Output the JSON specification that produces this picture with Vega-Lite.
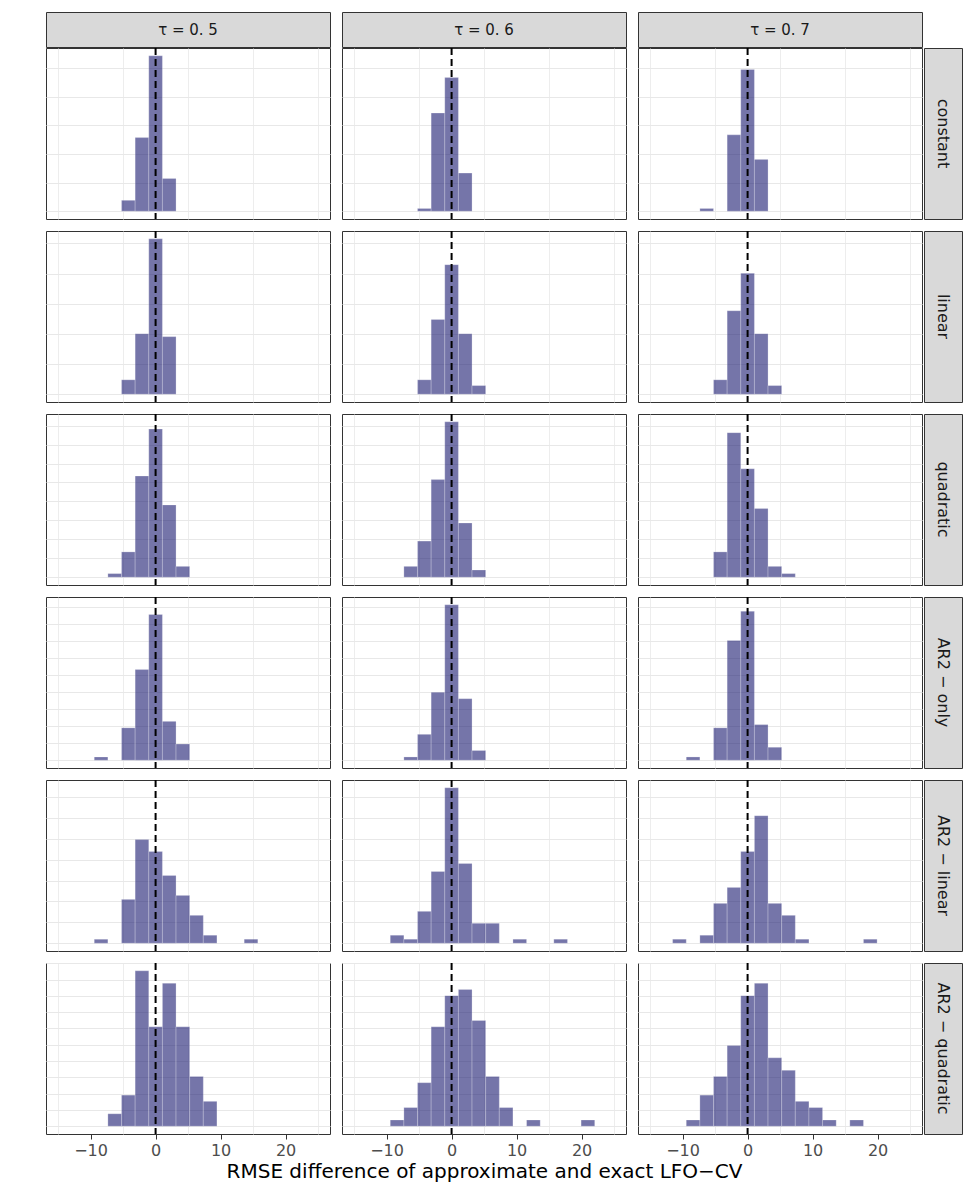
{
  "$schema": "https://vega.github.io/schema/vega-lite/v6.json",
  "padding": {"left": 45, "top": 11, "right": 5, "bottom": 5},
  "config": {
    "font": "DejaVu Sans",
    "view": {"stroke": "#333333", "strokeWidth": 1},
    "axis": {"domain": false, "grid": true, "gridColor": "#e8e8e8", "title": null},
    "axisY": {"labels": false, "ticks": false, "minExtent": 0, "maxExtent": 0, "gridWidth": 1}
  },
  "data": {"name": "bars"},
  "datasets": {
    "bars": [
      {"model": "constant", "tau": "0.5", "lo": -5.243, "hi": -3.146, "count": 4},
      {"model": "constant", "tau": "0.5", "lo": -3.146, "hi": -1.049, "count": 27},
      {"model": "constant", "tau": "0.5", "lo": -1.049, "hi": 1.049, "count": 57},
      {"model": "constant", "tau": "0.5", "lo": 1.049, "hi": 3.146, "count": 12},
      {"model": "constant", "tau": "0.6", "lo": -5.243, "hi": -3.146, "count": 1},
      {"model": "constant", "tau": "0.6", "lo": -3.146, "hi": -1.049, "count": 36},
      {"model": "constant", "tau": "0.6", "lo": -1.049, "hi": 1.049, "count": 49},
      {"model": "constant", "tau": "0.6", "lo": 1.049, "hi": 3.146, "count": 14},
      {"model": "constant", "tau": "0.7", "lo": -7.34, "hi": -5.243, "count": 1},
      {"model": "constant", "tau": "0.7", "lo": -3.146, "hi": -1.049, "count": 28},
      {"model": "constant", "tau": "0.7", "lo": -1.049, "hi": 1.049, "count": 52},
      {"model": "constant", "tau": "0.7", "lo": 1.049, "hi": 3.146, "count": 19},
      {"model": "linear", "tau": "0.5", "lo": -5.243, "hi": -3.146, "count": 5},
      {"model": "linear", "tau": "0.5", "lo": -3.146, "hi": -1.049, "count": 21},
      {"model": "linear", "tau": "0.5", "lo": -1.049, "hi": 1.049, "count": 54},
      {"model": "linear", "tau": "0.5", "lo": 1.049, "hi": 3.146, "count": 20},
      {"model": "linear", "tau": "0.6", "lo": -5.243, "hi": -3.146, "count": 5},
      {"model": "linear", "tau": "0.6", "lo": -3.146, "hi": -1.049, "count": 26},
      {"model": "linear", "tau": "0.6", "lo": -1.049, "hi": 1.049, "count": 45},
      {"model": "linear", "tau": "0.6", "lo": 1.049, "hi": 3.146, "count": 21},
      {"model": "linear", "tau": "0.6", "lo": 3.146, "hi": 5.243, "count": 3},
      {"model": "linear", "tau": "0.7", "lo": -5.243, "hi": -3.146, "count": 5},
      {"model": "linear", "tau": "0.7", "lo": -3.146, "hi": -1.049, "count": 29},
      {"model": "linear", "tau": "0.7", "lo": -1.049, "hi": 1.049, "count": 42},
      {"model": "linear", "tau": "0.7", "lo": 1.049, "hi": 3.146, "count": 21},
      {"model": "linear", "tau": "0.7", "lo": 3.146, "hi": 5.243, "count": 3},
      {"model": "quadratic", "tau": "0.5", "lo": -7.34, "hi": -5.243, "count": 1},
      {"model": "quadratic", "tau": "0.5", "lo": -5.243, "hi": -3.146, "count": 7},
      {"model": "quadratic", "tau": "0.5", "lo": -3.146, "hi": -1.049, "count": 28},
      {"model": "quadratic", "tau": "0.5", "lo": -1.049, "hi": 1.049, "count": 41},
      {"model": "quadratic", "tau": "0.5", "lo": 1.049, "hi": 3.146, "count": 20},
      {"model": "quadratic", "tau": "0.5", "lo": 3.146, "hi": 5.243, "count": 3},
      {"model": "quadratic", "tau": "0.6", "lo": -7.34, "hi": -5.243, "count": 3},
      {"model": "quadratic", "tau": "0.6", "lo": -5.243, "hi": -3.146, "count": 10},
      {"model": "quadratic", "tau": "0.6", "lo": -3.146, "hi": -1.049, "count": 27},
      {"model": "quadratic", "tau": "0.6", "lo": -1.049, "hi": 1.049, "count": 43},
      {"model": "quadratic", "tau": "0.6", "lo": 1.049, "hi": 3.146, "count": 15},
      {"model": "quadratic", "tau": "0.6", "lo": 3.146, "hi": 5.243, "count": 2},
      {"model": "quadratic", "tau": "0.7", "lo": -5.243, "hi": -3.146, "count": 7},
      {"model": "quadratic", "tau": "0.7", "lo": -3.146, "hi": -1.049, "count": 40},
      {"model": "quadratic", "tau": "0.7", "lo": -1.049, "hi": 1.049, "count": 30},
      {"model": "quadratic", "tau": "0.7", "lo": 1.049, "hi": 3.146, "count": 19},
      {"model": "quadratic", "tau": "0.7", "lo": 3.146, "hi": 5.243, "count": 3},
      {"model": "quadratic", "tau": "0.7", "lo": 5.243, "hi": 7.34, "count": 1},
      {"model": "AR2-only", "tau": "0.5", "lo": -9.437, "hi": -7.34, "count": 1},
      {"model": "AR2-only", "tau": "0.5", "lo": -5.243, "hi": -3.146, "count": 10},
      {"model": "AR2-only", "tau": "0.5", "lo": -3.146, "hi": -1.049, "count": 28},
      {"model": "AR2-only", "tau": "0.5", "lo": -1.049, "hi": 1.049, "count": 45},
      {"model": "AR2-only", "tau": "0.5", "lo": 1.049, "hi": 3.146, "count": 12},
      {"model": "AR2-only", "tau": "0.5", "lo": 3.146, "hi": 5.243, "count": 5},
      {"model": "AR2-only", "tau": "0.6", "lo": -7.34, "hi": -5.243, "count": 1},
      {"model": "AR2-only", "tau": "0.6", "lo": -5.243, "hi": -3.146, "count": 8},
      {"model": "AR2-only", "tau": "0.6", "lo": -3.146, "hi": -1.049, "count": 21},
      {"model": "AR2-only", "tau": "0.6", "lo": -1.049, "hi": 1.049, "count": 48},
      {"model": "AR2-only", "tau": "0.6", "lo": 1.049, "hi": 3.146, "count": 19},
      {"model": "AR2-only", "tau": "0.6", "lo": 3.146, "hi": 5.243, "count": 3},
      {"model": "AR2-only", "tau": "0.7", "lo": -9.437, "hi": -7.34, "count": 1},
      {"model": "AR2-only", "tau": "0.7", "lo": -5.243, "hi": -3.146, "count": 10},
      {"model": "AR2-only", "tau": "0.7", "lo": -3.146, "hi": -1.049, "count": 37},
      {"model": "AR2-only", "tau": "0.7", "lo": -1.049, "hi": 1.049, "count": 46},
      {"model": "AR2-only", "tau": "0.7", "lo": 1.049, "hi": 3.146, "count": 11},
      {"model": "AR2-only", "tau": "0.7", "lo": 3.146, "hi": 5.243, "count": 4},
      {"model": "AR2-linear", "tau": "0.5", "lo": -9.437, "hi": -7.34, "count": 1},
      {"model": "AR2-linear", "tau": "0.5", "lo": -5.243, "hi": -3.146, "count": 11},
      {"model": "AR2-linear", "tau": "0.5", "lo": -3.146, "hi": -1.049, "count": 26},
      {"model": "AR2-linear", "tau": "0.5", "lo": -1.049, "hi": 1.049, "count": 23},
      {"model": "AR2-linear", "tau": "0.5", "lo": 1.049, "hi": 3.146, "count": 17},
      {"model": "AR2-linear", "tau": "0.5", "lo": 3.146, "hi": 5.243, "count": 12},
      {"model": "AR2-linear", "tau": "0.5", "lo": 5.243, "hi": 7.34, "count": 7},
      {"model": "AR2-linear", "tau": "0.5", "lo": 7.34, "hi": 9.437, "count": 2},
      {"model": "AR2-linear", "tau": "0.5", "lo": 13.631, "hi": 15.728, "count": 1},
      {"model": "AR2-linear", "tau": "0.6", "lo": -9.437, "hi": -7.34, "count": 2},
      {"model": "AR2-linear", "tau": "0.6", "lo": -7.34, "hi": -5.243, "count": 1},
      {"model": "AR2-linear", "tau": "0.6", "lo": -5.243, "hi": -3.146, "count": 8},
      {"model": "AR2-linear", "tau": "0.6", "lo": -3.146, "hi": -1.049, "count": 18},
      {"model": "AR2-linear", "tau": "0.6", "lo": -1.049, "hi": 1.049, "count": 39},
      {"model": "AR2-linear", "tau": "0.6", "lo": 1.049, "hi": 3.146, "count": 20},
      {"model": "AR2-linear", "tau": "0.6", "lo": 3.146, "hi": 5.243, "count": 5},
      {"model": "AR2-linear", "tau": "0.6", "lo": 5.243, "hi": 7.34, "count": 5},
      {"model": "AR2-linear", "tau": "0.6", "lo": 9.437, "hi": 11.534, "count": 1},
      {"model": "AR2-linear", "tau": "0.6", "lo": 15.728, "hi": 17.825, "count": 1},
      {"model": "AR2-linear", "tau": "0.7", "lo": -11.534, "hi": -9.437, "count": 1},
      {"model": "AR2-linear", "tau": "0.7", "lo": -7.34, "hi": -5.243, "count": 2},
      {"model": "AR2-linear", "tau": "0.7", "lo": -5.243, "hi": -3.146, "count": 10},
      {"model": "AR2-linear", "tau": "0.7", "lo": -3.146, "hi": -1.049, "count": 14},
      {"model": "AR2-linear", "tau": "0.7", "lo": -1.049, "hi": 1.049, "count": 23},
      {"model": "AR2-linear", "tau": "0.7", "lo": 1.049, "hi": 3.146, "count": 32},
      {"model": "AR2-linear", "tau": "0.7", "lo": 3.146, "hi": 5.243, "count": 10},
      {"model": "AR2-linear", "tau": "0.7", "lo": 5.243, "hi": 7.34, "count": 7},
      {"model": "AR2-linear", "tau": "0.7", "lo": 7.34, "hi": 9.437, "count": 1},
      {"model": "AR2-linear", "tau": "0.7", "lo": 17.825, "hi": 19.922, "count": 1},
      {"model": "AR2-quadratic", "tau": "0.5", "lo": -7.34, "hi": -5.243, "count": 2},
      {"model": "AR2-quadratic", "tau": "0.5", "lo": -5.243, "hi": -3.146, "count": 5},
      {"model": "AR2-quadratic", "tau": "0.5", "lo": -3.146, "hi": -1.049, "count": 25},
      {"model": "AR2-quadratic", "tau": "0.5", "lo": -1.049, "hi": 1.049, "count": 16},
      {"model": "AR2-quadratic", "tau": "0.5", "lo": 1.049, "hi": 3.146, "count": 23},
      {"model": "AR2-quadratic", "tau": "0.5", "lo": 3.146, "hi": 5.243, "count": 16},
      {"model": "AR2-quadratic", "tau": "0.5", "lo": 5.243, "hi": 7.34, "count": 8},
      {"model": "AR2-quadratic", "tau": "0.5", "lo": 7.34, "hi": 9.437, "count": 4},
      {"model": "AR2-quadratic", "tau": "0.6", "lo": -9.437, "hi": -7.34, "count": 1},
      {"model": "AR2-quadratic", "tau": "0.6", "lo": -7.34, "hi": -5.243, "count": 3},
      {"model": "AR2-quadratic", "tau": "0.6", "lo": -5.243, "hi": -3.146, "count": 7},
      {"model": "AR2-quadratic", "tau": "0.6", "lo": -3.146, "hi": -1.049, "count": 16},
      {"model": "AR2-quadratic", "tau": "0.6", "lo": -1.049, "hi": 1.049, "count": 21},
      {"model": "AR2-quadratic", "tau": "0.6", "lo": 1.049, "hi": 3.146, "count": 22},
      {"model": "AR2-quadratic", "tau": "0.6", "lo": 3.146, "hi": 5.243, "count": 17},
      {"model": "AR2-quadratic", "tau": "0.6", "lo": 5.243, "hi": 7.34, "count": 8},
      {"model": "AR2-quadratic", "tau": "0.6", "lo": 7.34, "hi": 9.437, "count": 3},
      {"model": "AR2-quadratic", "tau": "0.6", "lo": 11.534, "hi": 13.631, "count": 1},
      {"model": "AR2-quadratic", "tau": "0.6", "lo": 19.922, "hi": 22.019, "count": 1},
      {"model": "AR2-quadratic", "tau": "0.7", "lo": -9.437, "hi": -7.34, "count": 1},
      {"model": "AR2-quadratic", "tau": "0.7", "lo": -7.34, "hi": -5.243, "count": 5},
      {"model": "AR2-quadratic", "tau": "0.7", "lo": -5.243, "hi": -3.146, "count": 8},
      {"model": "AR2-quadratic", "tau": "0.7", "lo": -3.146, "hi": -1.049, "count": 13},
      {"model": "AR2-quadratic", "tau": "0.7", "lo": -1.049, "hi": 1.049, "count": 21},
      {"model": "AR2-quadratic", "tau": "0.7", "lo": 1.049, "hi": 3.146, "count": 23},
      {"model": "AR2-quadratic", "tau": "0.7", "lo": 3.146, "hi": 5.243, "count": 11},
      {"model": "AR2-quadratic", "tau": "0.7", "lo": 5.243, "hi": 7.34, "count": 9},
      {"model": "AR2-quadratic", "tau": "0.7", "lo": 7.34, "hi": 9.437, "count": 4},
      {"model": "AR2-quadratic", "tau": "0.7", "lo": 9.437, "hi": 11.534, "count": 3},
      {"model": "AR2-quadratic", "tau": "0.7", "lo": 11.534, "hi": 13.631, "count": 1},
      {"model": "AR2-quadratic", "tau": "0.7", "lo": 15.728, "hi": 17.825, "count": 1}
    ]
  },
  "spacing": 8,
  "resolve": {"scale": {"y": "independent"}},
  "vconcat": [
    {
      "spacing": -3,
      "resolve": {"scale": {"y": "independent"}},
      "vconcat": [
        {
          "spacing": 12,
          "bounds": "flush",
          "hconcat": [
            {"width": 284, "height": 35, "view": {"fill": "#d9d9d9", "stroke": "#333333"}, "data": {"values": [{"label": "τ = 0. 5"}]}, "mark": {"type": "text", "fontSize": 15, "color": "#1a1a1a"}, "encoding": {"text": {"field": "label"}}},
            {"width": 284, "height": 35, "view": {"fill": "#d9d9d9", "stroke": "#333333"}, "data": {"values": [{"label": "τ = 0. 6"}]}, "mark": {"type": "text", "fontSize": 15, "color": "#1a1a1a"}, "encoding": {"text": {"field": "label"}}},
            {"width": 284, "height": 35, "view": {"fill": "#d9d9d9", "stroke": "#333333"}, "data": {"values": [{"label": "τ = 0. 7"}]}, "mark": {"type": "text", "fontSize": 15, "color": "#1a1a1a"}, "encoding": {"text": {"field": "label"}}}
          ]
        },
        {
          "spacing": 0,
          "hconcat": [
            {
              "spacing": 12, "bounds": "flush", "resolve": {"scale": {"y": "shared"}},
              "hconcat": [
                {"transform": [{"filter": "datum.model === 'constant' && datum.tau === '0.5'"}], "width": 284, "height": 171, "resolve": {"axis": {"x": "independent"}}, "layer": [
                  {"mark": {"type": "rect", "fill": "#191970", "fillOpacity": 0.6, "stroke": "#ffffff", "strokeOpacity": 0.4, "strokeWidth": 0.6}, "encoding": {
                    "x": {"field": "lo", "type": "quantitative", "scale": {"domain": [-16.86, 26.83], "nice": false, "zero": false}, "axis": {"orient": "bottom", "values": [-15, -5, 5, 15, 25], "labels": false, "ticks": false, "minExtent": 0, "maxExtent": 0, "gridWidth": 0.8}},
                    "x2": {"field": "hi"},
                    "y": {"field": "count", "type": "quantitative", "scale": {"zero": true, "nice": false, "padding": 7.8}, "axis": {"values": [0, 10.485, 20.97, 31.455, 41.94, 52.425]}},
                    "y2": {"datum": 0}}},
                  {"transform": [{"aggregate": [{"op": "count", "as": "n"}]}], "mark": {"type": "rule", "color": "#000000", "strokeDash": [7, 4], "strokeWidth": 2}, "encoding": {"x": {"datum": 0, "type": "quantitative", "axis": {"orient": "bottom", "values": [-10, 0, 10, 20], "labels": false, "ticks": false, "minExtent": 0, "maxExtent": 0, "gridWidth": 1.5}}}}
                ]},
                {"transform": [{"filter": "datum.model === 'constant' && datum.tau === '0.6'"}], "width": 284, "height": 171, "resolve": {"axis": {"x": "independent"}}, "layer": [
                  {"mark": {"type": "rect", "fill": "#191970", "fillOpacity": 0.6, "stroke": "#ffffff", "strokeOpacity": 0.4, "strokeWidth": 0.6}, "encoding": {
                    "x": {"field": "lo", "type": "quantitative", "scale": {"domain": [-16.86, 26.83], "nice": false, "zero": false}, "axis": {"orient": "bottom", "values": [-15, -5, 5, 15, 25], "labels": false, "ticks": false, "minExtent": 0, "maxExtent": 0, "gridWidth": 0.8}},
                    "x2": {"field": "hi"},
                    "y": {"field": "count", "type": "quantitative", "scale": {"zero": true, "nice": false, "padding": 7.8}, "axis": {"values": [0, 10.485, 20.97, 31.455, 41.94, 52.425]}},
                    "y2": {"datum": 0}}},
                  {"transform": [{"aggregate": [{"op": "count", "as": "n"}]}], "mark": {"type": "rule", "color": "#000000", "strokeDash": [7, 4], "strokeWidth": 2}, "encoding": {"x": {"datum": 0, "type": "quantitative", "axis": {"orient": "bottom", "values": [-10, 0, 10, 20], "labels": false, "ticks": false, "minExtent": 0, "maxExtent": 0, "gridWidth": 1.5}}}}
                ]},
                {"transform": [{"filter": "datum.model === 'constant' && datum.tau === '0.7'"}], "width": 284, "height": 171, "resolve": {"axis": {"x": "independent"}}, "layer": [
                  {"mark": {"type": "rect", "fill": "#191970", "fillOpacity": 0.6, "stroke": "#ffffff", "strokeOpacity": 0.4, "strokeWidth": 0.6}, "encoding": {
                    "x": {"field": "lo", "type": "quantitative", "scale": {"domain": [-16.86, 26.83], "nice": false, "zero": false}, "axis": {"orient": "bottom", "values": [-15, -5, 5, 15, 25], "labels": false, "ticks": false, "minExtent": 0, "maxExtent": 0, "gridWidth": 0.8}},
                    "x2": {"field": "hi"},
                    "y": {"field": "count", "type": "quantitative", "scale": {"zero": true, "nice": false, "padding": 7.8}, "axis": {"values": [0, 10.485, 20.97, 31.455, 41.94, 52.425]}},
                    "y2": {"datum": 0}}},
                  {"transform": [{"aggregate": [{"op": "count", "as": "n"}]}], "mark": {"type": "rule", "color": "#000000", "strokeDash": [7, 4], "strokeWidth": 2}, "encoding": {"x": {"datum": 0, "type": "quantitative", "axis": {"orient": "bottom", "values": [-10, 0, 10, 20], "labels": false, "ticks": false, "minExtent": 0, "maxExtent": 0, "gridWidth": 1.5}}}}
                ]}
              ]
            },
            {"width": 38, "height": 171, "view": {"fill": "#d9d9d9", "stroke": "#333333"}, "data": {"values": [{"label": "constant"}]}, "mark": {"type": "text", "angle": 90, "fontSize": 16, "color": "#1a1a1a"}, "encoding": {"text": {"field": "label"}}}
          ]
        }
      ]
    },
    {
      "spacing": 0,
      "hconcat": [
        {
          "spacing": 12, "bounds": "flush", "resolve": {"scale": {"y": "shared"}},
          "hconcat": [
            {"transform": [{"filter": "datum.model === 'linear' && datum.tau === '0.5'"}], "width": 284, "height": 171, "resolve": {"axis": {"x": "independent"}}, "layer": [
              {"mark": {"type": "rect", "fill": "#191970", "fillOpacity": 0.6, "stroke": "#ffffff", "strokeOpacity": 0.4, "strokeWidth": 0.6}, "encoding": {
                "x": {"field": "lo", "type": "quantitative", "scale": {"domain": [-16.86, 26.83], "nice": false, "zero": false}, "axis": {"orient": "bottom", "values": [-15, -5, 5, 15, 25], "labels": false, "ticks": false, "minExtent": 0, "maxExtent": 0, "gridWidth": 0.8}},
                "x2": {"field": "hi"},
                "y": {"field": "count", "type": "quantitative", "scale": {"zero": true, "nice": false, "padding": 7.8}, "axis": {"values": [0, 10.485, 20.97, 31.455, 41.94, 52.425]}},
                "y2": {"datum": 0}}},
              {"transform": [{"aggregate": [{"op": "count", "as": "n"}]}], "mark": {"type": "rule", "color": "#000000", "strokeDash": [7, 4], "strokeWidth": 2}, "encoding": {"x": {"datum": 0, "type": "quantitative", "axis": {"orient": "bottom", "values": [-10, 0, 10, 20], "labels": false, "ticks": false, "minExtent": 0, "maxExtent": 0, "gridWidth": 1.5}}}}
            ]},
            {"transform": [{"filter": "datum.model === 'linear' && datum.tau === '0.6'"}], "width": 284, "height": 171, "resolve": {"axis": {"x": "independent"}}, "layer": [
              {"mark": {"type": "rect", "fill": "#191970", "fillOpacity": 0.6, "stroke": "#ffffff", "strokeOpacity": 0.4, "strokeWidth": 0.6}, "encoding": {
                "x": {"field": "lo", "type": "quantitative", "scale": {"domain": [-16.86, 26.83], "nice": false, "zero": false}, "axis": {"orient": "bottom", "values": [-15, -5, 5, 15, 25], "labels": false, "ticks": false, "minExtent": 0, "maxExtent": 0, "gridWidth": 0.8}},
                "x2": {"field": "hi"},
                "y": {"field": "count", "type": "quantitative", "scale": {"zero": true, "nice": false, "padding": 7.8}, "axis": {"values": [0, 10.485, 20.97, 31.455, 41.94, 52.425]}},
                "y2": {"datum": 0}}},
              {"transform": [{"aggregate": [{"op": "count", "as": "n"}]}], "mark": {"type": "rule", "color": "#000000", "strokeDash": [7, 4], "strokeWidth": 2}, "encoding": {"x": {"datum": 0, "type": "quantitative", "axis": {"orient": "bottom", "values": [-10, 0, 10, 20], "labels": false, "ticks": false, "minExtent": 0, "maxExtent": 0, "gridWidth": 1.5}}}}
            ]},
            {"transform": [{"filter": "datum.model === 'linear' && datum.tau === '0.7'"}], "width": 284, "height": 171, "resolve": {"axis": {"x": "independent"}}, "layer": [
              {"mark": {"type": "rect", "fill": "#191970", "fillOpacity": 0.6, "stroke": "#ffffff", "strokeOpacity": 0.4, "strokeWidth": 0.6}, "encoding": {
                "x": {"field": "lo", "type": "quantitative", "scale": {"domain": [-16.86, 26.83], "nice": false, "zero": false}, "axis": {"orient": "bottom", "values": [-15, -5, 5, 15, 25], "labels": false, "ticks": false, "minExtent": 0, "maxExtent": 0, "gridWidth": 0.8}},
                "x2": {"field": "hi"},
                "y": {"field": "count", "type": "quantitative", "scale": {"zero": true, "nice": false, "padding": 7.8}, "axis": {"values": [0, 10.485, 20.97, 31.455, 41.94, 52.425]}},
                "y2": {"datum": 0}}},
              {"transform": [{"aggregate": [{"op": "count", "as": "n"}]}], "mark": {"type": "rule", "color": "#000000", "strokeDash": [7, 4], "strokeWidth": 2}, "encoding": {"x": {"datum": 0, "type": "quantitative", "axis": {"orient": "bottom", "values": [-10, 0, 10, 20], "labels": false, "ticks": false, "minExtent": 0, "maxExtent": 0, "gridWidth": 1.5}}}}
            ]}
          ]
        },
        {"width": 38, "height": 171, "view": {"fill": "#d9d9d9", "stroke": "#333333"}, "data": {"values": [{"label": "linear"}]}, "mark": {"type": "text", "angle": 90, "fontSize": 16, "color": "#1a1a1a"}, "encoding": {"text": {"field": "label"}}}
      ]
    },
    {
      "spacing": 0,
      "hconcat": [
        {
          "spacing": 12, "bounds": "flush", "resolve": {"scale": {"y": "shared"}},
          "hconcat": [
            {"transform": [{"filter": "datum.model === 'quadratic' && datum.tau === '0.5'"}], "width": 284, "height": 171, "resolve": {"axis": {"x": "independent"}}, "layer": [
              {"mark": {"type": "rect", "fill": "#191970", "fillOpacity": 0.6, "stroke": "#ffffff", "strokeOpacity": 0.4, "strokeWidth": 0.6}, "encoding": {
                "x": {"field": "lo", "type": "quantitative", "scale": {"domain": [-16.86, 26.83], "nice": false, "zero": false}, "axis": {"orient": "bottom", "values": [-15, -5, 5, 15, 25], "labels": false, "ticks": false, "minExtent": 0, "maxExtent": 0, "gridWidth": 0.8}},
                "x2": {"field": "hi"},
                "y": {"field": "count", "type": "quantitative", "scale": {"zero": true, "nice": false, "padding": 7.8}, "axis": {"values": [0, 5.2425, 10.485, 15.7275, 20.97, 26.2125, 31.455, 36.6975, 41.94]}},
                "y2": {"datum": 0}}},
              {"transform": [{"aggregate": [{"op": "count", "as": "n"}]}], "mark": {"type": "rule", "color": "#000000", "strokeDash": [7, 4], "strokeWidth": 2}, "encoding": {"x": {"datum": 0, "type": "quantitative", "axis": {"orient": "bottom", "values": [-10, 0, 10, 20], "labels": false, "ticks": false, "minExtent": 0, "maxExtent": 0, "gridWidth": 1.5}}}}
            ]},
            {"transform": [{"filter": "datum.model === 'quadratic' && datum.tau === '0.6'"}], "width": 284, "height": 171, "resolve": {"axis": {"x": "independent"}}, "layer": [
              {"mark": {"type": "rect", "fill": "#191970", "fillOpacity": 0.6, "stroke": "#ffffff", "strokeOpacity": 0.4, "strokeWidth": 0.6}, "encoding": {
                "x": {"field": "lo", "type": "quantitative", "scale": {"domain": [-16.86, 26.83], "nice": false, "zero": false}, "axis": {"orient": "bottom", "values": [-15, -5, 5, 15, 25], "labels": false, "ticks": false, "minExtent": 0, "maxExtent": 0, "gridWidth": 0.8}},
                "x2": {"field": "hi"},
                "y": {"field": "count", "type": "quantitative", "scale": {"zero": true, "nice": false, "padding": 7.8}, "axis": {"values": [0, 5.2425, 10.485, 15.7275, 20.97, 26.2125, 31.455, 36.6975, 41.94]}},
                "y2": {"datum": 0}}},
              {"transform": [{"aggregate": [{"op": "count", "as": "n"}]}], "mark": {"type": "rule", "color": "#000000", "strokeDash": [7, 4], "strokeWidth": 2}, "encoding": {"x": {"datum": 0, "type": "quantitative", "axis": {"orient": "bottom", "values": [-10, 0, 10, 20], "labels": false, "ticks": false, "minExtent": 0, "maxExtent": 0, "gridWidth": 1.5}}}}
            ]},
            {"transform": [{"filter": "datum.model === 'quadratic' && datum.tau === '0.7'"}], "width": 284, "height": 171, "resolve": {"axis": {"x": "independent"}}, "layer": [
              {"mark": {"type": "rect", "fill": "#191970", "fillOpacity": 0.6, "stroke": "#ffffff", "strokeOpacity": 0.4, "strokeWidth": 0.6}, "encoding": {
                "x": {"field": "lo", "type": "quantitative", "scale": {"domain": [-16.86, 26.83], "nice": false, "zero": false}, "axis": {"orient": "bottom", "values": [-15, -5, 5, 15, 25], "labels": false, "ticks": false, "minExtent": 0, "maxExtent": 0, "gridWidth": 0.8}},
                "x2": {"field": "hi"},
                "y": {"field": "count", "type": "quantitative", "scale": {"zero": true, "nice": false, "padding": 7.8}, "axis": {"values": [0, 5.2425, 10.485, 15.7275, 20.97, 26.2125, 31.455, 36.6975, 41.94]}},
                "y2": {"datum": 0}}},
              {"transform": [{"aggregate": [{"op": "count", "as": "n"}]}], "mark": {"type": "rule", "color": "#000000", "strokeDash": [7, 4], "strokeWidth": 2}, "encoding": {"x": {"datum": 0, "type": "quantitative", "axis": {"orient": "bottom", "values": [-10, 0, 10, 20], "labels": false, "ticks": false, "minExtent": 0, "maxExtent": 0, "gridWidth": 1.5}}}}
            ]}
          ]
        },
        {"width": 38, "height": 171, "view": {"fill": "#d9d9d9", "stroke": "#333333"}, "data": {"values": [{"label": "quadratic"}]}, "mark": {"type": "text", "angle": 90, "fontSize": 16, "color": "#1a1a1a"}, "encoding": {"text": {"field": "label"}}}
      ]
    },
    {
      "spacing": 0,
      "hconcat": [
        {
          "spacing": 12, "bounds": "flush", "resolve": {"scale": {"y": "shared"}},
          "hconcat": [
            {"transform": [{"filter": "datum.model === 'AR2-only' && datum.tau === '0.5'"}], "width": 284, "height": 171, "resolve": {"axis": {"x": "independent"}}, "layer": [
              {"mark": {"type": "rect", "fill": "#191970", "fillOpacity": 0.6, "stroke": "#ffffff", "strokeOpacity": 0.4, "strokeWidth": 0.6}, "encoding": {
                "x": {"field": "lo", "type": "quantitative", "scale": {"domain": [-16.86, 26.83], "nice": false, "zero": false}, "axis": {"orient": "bottom", "values": [-15, -5, 5, 15, 25], "labels": false, "ticks": false, "minExtent": 0, "maxExtent": 0, "gridWidth": 0.8}},
                "x2": {"field": "hi"},
                "y": {"field": "count", "type": "quantitative", "scale": {"zero": true, "nice": false, "padding": 7.8}, "axis": {"values": [0, 5.2425, 10.485, 15.7275, 20.97, 26.2125, 31.455, 36.6975, 41.94, 47.1825]}},
                "y2": {"datum": 0}}},
              {"transform": [{"aggregate": [{"op": "count", "as": "n"}]}], "mark": {"type": "rule", "color": "#000000", "strokeDash": [7, 4], "strokeWidth": 2}, "encoding": {"x": {"datum": 0, "type": "quantitative", "axis": {"orient": "bottom", "values": [-10, 0, 10, 20], "labels": false, "ticks": false, "minExtent": 0, "maxExtent": 0, "gridWidth": 1.5}}}}
            ]},
            {"transform": [{"filter": "datum.model === 'AR2-only' && datum.tau === '0.6'"}], "width": 284, "height": 171, "resolve": {"axis": {"x": "independent"}}, "layer": [
              {"mark": {"type": "rect", "fill": "#191970", "fillOpacity": 0.6, "stroke": "#ffffff", "strokeOpacity": 0.4, "strokeWidth": 0.6}, "encoding": {
                "x": {"field": "lo", "type": "quantitative", "scale": {"domain": [-16.86, 26.83], "nice": false, "zero": false}, "axis": {"orient": "bottom", "values": [-15, -5, 5, 15, 25], "labels": false, "ticks": false, "minExtent": 0, "maxExtent": 0, "gridWidth": 0.8}},
                "x2": {"field": "hi"},
                "y": {"field": "count", "type": "quantitative", "scale": {"zero": true, "nice": false, "padding": 7.8}, "axis": {"values": [0, 5.2425, 10.485, 15.7275, 20.97, 26.2125, 31.455, 36.6975, 41.94, 47.1825]}},
                "y2": {"datum": 0}}},
              {"transform": [{"aggregate": [{"op": "count", "as": "n"}]}], "mark": {"type": "rule", "color": "#000000", "strokeDash": [7, 4], "strokeWidth": 2}, "encoding": {"x": {"datum": 0, "type": "quantitative", "axis": {"orient": "bottom", "values": [-10, 0, 10, 20], "labels": false, "ticks": false, "minExtent": 0, "maxExtent": 0, "gridWidth": 1.5}}}}
            ]},
            {"transform": [{"filter": "datum.model === 'AR2-only' && datum.tau === '0.7'"}], "width": 284, "height": 171, "resolve": {"axis": {"x": "independent"}}, "layer": [
              {"mark": {"type": "rect", "fill": "#191970", "fillOpacity": 0.6, "stroke": "#ffffff", "strokeOpacity": 0.4, "strokeWidth": 0.6}, "encoding": {
                "x": {"field": "lo", "type": "quantitative", "scale": {"domain": [-16.86, 26.83], "nice": false, "zero": false}, "axis": {"orient": "bottom", "values": [-15, -5, 5, 15, 25], "labels": false, "ticks": false, "minExtent": 0, "maxExtent": 0, "gridWidth": 0.8}},
                "x2": {"field": "hi"},
                "y": {"field": "count", "type": "quantitative", "scale": {"zero": true, "nice": false, "padding": 7.8}, "axis": {"values": [0, 5.2425, 10.485, 15.7275, 20.97, 26.2125, 31.455, 36.6975, 41.94, 47.1825]}},
                "y2": {"datum": 0}}},
              {"transform": [{"aggregate": [{"op": "count", "as": "n"}]}], "mark": {"type": "rule", "color": "#000000", "strokeDash": [7, 4], "strokeWidth": 2}, "encoding": {"x": {"datum": 0, "type": "quantitative", "axis": {"orient": "bottom", "values": [-10, 0, 10, 20], "labels": false, "ticks": false, "minExtent": 0, "maxExtent": 0, "gridWidth": 1.5}}}}
            ]}
          ]
        },
        {"width": 38, "height": 171, "view": {"fill": "#d9d9d9", "stroke": "#333333"}, "data": {"values": [{"label": "AR2 − only"}]}, "mark": {"type": "text", "angle": 90, "fontSize": 16, "color": "#1a1a1a"}, "encoding": {"text": {"field": "label"}}}
      ]
    },
    {
      "spacing": 0,
      "hconcat": [
        {
          "spacing": 12, "bounds": "flush", "resolve": {"scale": {"y": "shared"}},
          "hconcat": [
            {"transform": [{"filter": "datum.model === 'AR2-linear' && datum.tau === '0.5'"}], "width": 284, "height": 171, "resolve": {"axis": {"x": "independent"}}, "layer": [
              {"mark": {"type": "rect", "fill": "#191970", "fillOpacity": 0.6, "stroke": "#ffffff", "strokeOpacity": 0.4, "strokeWidth": 0.6}, "encoding": {
                "x": {"field": "lo", "type": "quantitative", "scale": {"domain": [-16.86, 26.83], "nice": false, "zero": false}, "axis": {"orient": "bottom", "values": [-15, -5, 5, 15, 25], "labels": false, "ticks": false, "minExtent": 0, "maxExtent": 0, "gridWidth": 0.8}},
                "x2": {"field": "hi"},
                "y": {"field": "count", "type": "quantitative", "scale": {"zero": true, "nice": false, "padding": 7.8}, "axis": {"values": [0, 5.2425, 10.485, 15.7275, 20.97, 26.2125, 31.455, 36.6975]}},
                "y2": {"datum": 0}}},
              {"transform": [{"aggregate": [{"op": "count", "as": "n"}]}], "mark": {"type": "rule", "color": "#000000", "strokeDash": [7, 4], "strokeWidth": 2}, "encoding": {"x": {"datum": 0, "type": "quantitative", "axis": {"orient": "bottom", "values": [-10, 0, 10, 20], "labels": false, "ticks": false, "minExtent": 0, "maxExtent": 0, "gridWidth": 1.5}}}}
            ]},
            {"transform": [{"filter": "datum.model === 'AR2-linear' && datum.tau === '0.6'"}], "width": 284, "height": 171, "resolve": {"axis": {"x": "independent"}}, "layer": [
              {"mark": {"type": "rect", "fill": "#191970", "fillOpacity": 0.6, "stroke": "#ffffff", "strokeOpacity": 0.4, "strokeWidth": 0.6}, "encoding": {
                "x": {"field": "lo", "type": "quantitative", "scale": {"domain": [-16.86, 26.83], "nice": false, "zero": false}, "axis": {"orient": "bottom", "values": [-15, -5, 5, 15, 25], "labels": false, "ticks": false, "minExtent": 0, "maxExtent": 0, "gridWidth": 0.8}},
                "x2": {"field": "hi"},
                "y": {"field": "count", "type": "quantitative", "scale": {"zero": true, "nice": false, "padding": 7.8}, "axis": {"values": [0, 5.2425, 10.485, 15.7275, 20.97, 26.2125, 31.455, 36.6975]}},
                "y2": {"datum": 0}}},
              {"transform": [{"aggregate": [{"op": "count", "as": "n"}]}], "mark": {"type": "rule", "color": "#000000", "strokeDash": [7, 4], "strokeWidth": 2}, "encoding": {"x": {"datum": 0, "type": "quantitative", "axis": {"orient": "bottom", "values": [-10, 0, 10, 20], "labels": false, "ticks": false, "minExtent": 0, "maxExtent": 0, "gridWidth": 1.5}}}}
            ]},
            {"transform": [{"filter": "datum.model === 'AR2-linear' && datum.tau === '0.7'"}], "width": 284, "height": 171, "resolve": {"axis": {"x": "independent"}}, "layer": [
              {"mark": {"type": "rect", "fill": "#191970", "fillOpacity": 0.6, "stroke": "#ffffff", "strokeOpacity": 0.4, "strokeWidth": 0.6}, "encoding": {
                "x": {"field": "lo", "type": "quantitative", "scale": {"domain": [-16.86, 26.83], "nice": false, "zero": false}, "axis": {"orient": "bottom", "values": [-15, -5, 5, 15, 25], "labels": false, "ticks": false, "minExtent": 0, "maxExtent": 0, "gridWidth": 0.8}},
                "x2": {"field": "hi"},
                "y": {"field": "count", "type": "quantitative", "scale": {"zero": true, "nice": false, "padding": 7.8}, "axis": {"values": [0, 5.2425, 10.485, 15.7275, 20.97, 26.2125, 31.455, 36.6975]}},
                "y2": {"datum": 0}}},
              {"transform": [{"aggregate": [{"op": "count", "as": "n"}]}], "mark": {"type": "rule", "color": "#000000", "strokeDash": [7, 4], "strokeWidth": 2}, "encoding": {"x": {"datum": 0, "type": "quantitative", "axis": {"orient": "bottom", "values": [-10, 0, 10, 20], "labels": false, "ticks": false, "minExtent": 0, "maxExtent": 0, "gridWidth": 1.5}}}}
            ]}
          ]
        },
        {"width": 38, "height": 171, "view": {"fill": "#d9d9d9", "stroke": "#333333"}, "data": {"values": [{"label": "AR2 − linear"}]}, "mark": {"type": "text", "angle": 90, "fontSize": 16, "color": "#1a1a1a"}, "encoding": {"text": {"field": "label"}}}
      ]
    },
    {
      "spacing": 0,
      "hconcat": [
        {
          "spacing": 12, "bounds": "flush", "resolve": {"scale": {"y": "shared"}},
          "hconcat": [
            {"transform": [{"filter": "datum.model === 'AR2-quadratic' && datum.tau === '0.5'"}], "width": 284, "height": 171, "resolve": {"axis": {"x": "independent"}}, "layer": [
              {"mark": {"type": "rect", "fill": "#191970", "fillOpacity": 0.6, "stroke": "#ffffff", "strokeOpacity": 0.4, "strokeWidth": 0.6}, "encoding": {
                "x": {"field": "lo", "type": "quantitative", "scale": {"domain": [-16.86, 26.83], "nice": false, "zero": false}, "axis": {"orient": "bottom", "values": [-15, -5, 5, 15, 25], "labels": false, "ticks": false, "minExtent": 0, "maxExtent": 0, "gridWidth": 0.8}},
                "x2": {"field": "hi"},
                "y": {"field": "count", "type": "quantitative", "scale": {"zero": true, "nice": false, "padding": 7.8}, "axis": {"values": [0, 2.62125, 5.2425, 7.86375, 10.485, 13.10625, 15.7275, 18.34875, 20.97, 23.59125, 26.2125]}},
                "y2": {"datum": 0}}},
              {"transform": [{"aggregate": [{"op": "count", "as": "n"}]}], "mark": {"type": "rule", "color": "#000000", "strokeDash": [7, 4], "strokeWidth": 2}, "encoding": {"x": {"datum": 0, "type": "quantitative", "axis": {"orient": "bottom", "values": [-10, 0, 10, 20], "labelFlush": false, "labelFontSize": 16, "labelColor": "#4d4d4d", "labelPadding": 3, "tickColor": "#333333", "tickSize": 5, "tickWidth": 1, "gridWidth": 1.5}}}}
            ]},
            {"transform": [{"filter": "datum.model === 'AR2-quadratic' && datum.tau === '0.6'"}], "width": 284, "height": 171, "resolve": {"axis": {"x": "independent"}}, "layer": [
              {"mark": {"type": "rect", "fill": "#191970", "fillOpacity": 0.6, "stroke": "#ffffff", "strokeOpacity": 0.4, "strokeWidth": 0.6}, "encoding": {
                "x": {"field": "lo", "type": "quantitative", "scale": {"domain": [-16.86, 26.83], "nice": false, "zero": false}, "axis": {"orient": "bottom", "values": [-15, -5, 5, 15, 25], "labels": false, "ticks": false, "minExtent": 0, "maxExtent": 0, "gridWidth": 0.8}},
                "x2": {"field": "hi"},
                "y": {"field": "count", "type": "quantitative", "scale": {"zero": true, "nice": false, "padding": 7.8}, "axis": {"values": [0, 2.62125, 5.2425, 7.86375, 10.485, 13.10625, 15.7275, 18.34875, 20.97, 23.59125, 26.2125]}},
                "y2": {"datum": 0}}},
              {"transform": [{"aggregate": [{"op": "count", "as": "n"}]}], "mark": {"type": "rule", "color": "#000000", "strokeDash": [7, 4], "strokeWidth": 2}, "encoding": {"x": {"datum": 0, "type": "quantitative", "axis": {"orient": "bottom", "values": [-10, 0, 10, 20], "title": "RMSE difference of approximate and exact LFO−CV", "titleFontSize": 20, "titleFontWeight": "normal", "titleColor": "#000000", "titlePadding": 3, "labelFlush": false, "labelFontSize": 16, "labelColor": "#4d4d4d", "labelPadding": 3, "tickColor": "#333333", "tickSize": 5, "tickWidth": 1, "gridWidth": 1.5}}}}
            ]},
            {"transform": [{"filter": "datum.model === 'AR2-quadratic' && datum.tau === '0.7'"}], "width": 284, "height": 171, "resolve": {"axis": {"x": "independent"}}, "layer": [
              {"mark": {"type": "rect", "fill": "#191970", "fillOpacity": 0.6, "stroke": "#ffffff", "strokeOpacity": 0.4, "strokeWidth": 0.6}, "encoding": {
                "x": {"field": "lo", "type": "quantitative", "scale": {"domain": [-16.86, 26.83], "nice": false, "zero": false}, "axis": {"orient": "bottom", "values": [-15, -5, 5, 15, 25], "labels": false, "ticks": false, "minExtent": 0, "maxExtent": 0, "gridWidth": 0.8}},
                "x2": {"field": "hi"},
                "y": {"field": "count", "type": "quantitative", "scale": {"zero": true, "nice": false, "padding": 7.8}, "axis": {"values": [0, 2.62125, 5.2425, 7.86375, 10.485, 13.10625, 15.7275, 18.34875, 20.97, 23.59125, 26.2125]}},
                "y2": {"datum": 0}}},
              {"transform": [{"aggregate": [{"op": "count", "as": "n"}]}], "mark": {"type": "rule", "color": "#000000", "strokeDash": [7, 4], "strokeWidth": 2}, "encoding": {"x": {"datum": 0, "type": "quantitative", "axis": {"orient": "bottom", "values": [-10, 0, 10, 20], "labelFlush": false, "labelFontSize": 16, "labelColor": "#4d4d4d", "labelPadding": 3, "tickColor": "#333333", "tickSize": 5, "tickWidth": 1, "gridWidth": 1.5}}}}
            ]}
          ]
        },
        {"width": 38, "height": 171, "view": {"fill": "#d9d9d9", "stroke": "#333333"}, "data": {"values": [{"label": "AR2 − quadratic"}]}, "mark": {"type": "text", "angle": 90, "fontSize": 16, "color": "#1a1a1a"}, "encoding": {"text": {"field": "label"}}}
      ]
    }
  ]
}
